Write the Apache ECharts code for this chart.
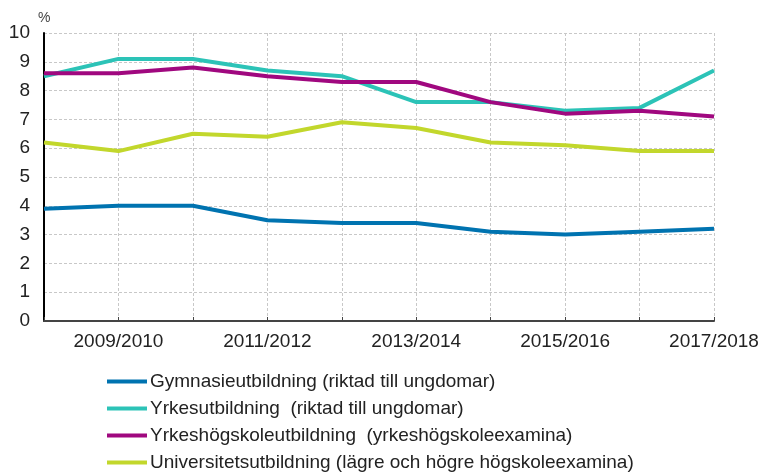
<!DOCTYPE html>
<html lang="sv">
  <head>
    <meta charset="utf-8" />
    <title>Examina</title>
    <style>
      * {
        margin: 0;
        padding: 0;
      }

      #chart-container {
        position: relative;
        width: 763px;
        height: 475px;
        overflow: hidden;
        background: #fff;
      }
    </style>
  </head>

  <body>
    <div id="chart-container"></div>
    <script src="https://cdn.jsdelivr.net/npm/echarts@6/dist/echarts.min.js"></script>
    <script>
      var years = [
        "2008/2009", "2009/2010", "2010/2011", "2011/2012", "2012/2013",
        "2013/2014", "2014/2015", "2015/2016", "2016/2017", "2017/2018",
      ];
      var gymnasie = [3.9, 4.0, 4.0, 3.5, 3.4, 3.4, 3.1, 3.0, 3.1, 3.2];
      var yrkes = [8.5, 9.1, 9.1, 8.7, 8.5, 7.6, 7.6, 7.3, 7.4, 8.7];
      var yrkeshogskola = [8.6, 8.6, 8.8, 8.5, 8.3, 8.3, 7.6, 7.2, 7.3, 7.1];
      var universitet = [6.2, 5.9, 6.5, 6.4, 6.9, 6.7, 6.2, 6.1, 5.9, 5.9];

      var names = [
        "Gymnasieutbildning (riktad till ungdomar)",
        "Yrkesutbildning  (riktad till ungdomar)",
        "Yrkeshögskoleutbildning  (yrkeshögskoleexamina)",
        "Universitetsutbildning (lägre och högre högskoleexamina)",
      ];
      var colors = ["#0073b0", "#2cc3b7", "#a0087f", "#c2d72c"];
      var values = [gymnasie, yrkes, yrkeshogskola, universitet];

      var dom = document.getElementById("chart-container");
      var myChart = echarts.init(dom, null, { renderer: "canvas" });

      var gridLine = {
        show: true,
        lineStyle: { color: "#c8c8c8", type: [3, 2], width: 1 },
      };

      var option = {
        animation: false,
        color: colors,
        textStyle: { fontFamily: "Liberation Sans, Arial, sans-serif" },
        grid: {
          left: 44,
          right: 49,
          top: 33,
          bottom: 154,
        },
        legend: {
          orient: "vertical",
          left: 107,
          top: 372,
          height: 103,
          padding: 0,
          itemWidth: 40,
          itemHeight: 4,
          itemGap: 8,
          icon: "rect",
          textStyle: { fontSize: 19, color: "#222", padding: [0, 0, 0, -2] },
          data: names,
        },
        xAxis: {
          type: "category",
          boundaryGap: false,
          data: years,
          axisLine: { lineStyle: { color: "#444", width: 2 } },
          axisTick: {
            show: true,
            inside: true,
            length: 4,
            interval: 0,
            lineStyle: { color: "#444" },
          },
          axisLabel: {
            interval: function (i) {
              return i % 2 === 1;
            },
            fontSize: 19,
            color: "#222",
            margin: 11,
          },
          splitLine: Object.assign({ interval: 0 }, gridLine),
        },
        yAxis: {
          type: "value",
          min: 0,
          max: 10,
          interval: 1,
          name: "%",
          nameGap: 8,
          nameTextStyle: { fontSize: 14, color: "#444", align: "left", padding: [0, 0, 0, -6] },
          axisLine: { show: true, lineStyle: { color: "#000", width: 2 } },
          axisTick: { show: false },
          axisLabel: { fontSize: 19, color: "#222", margin: 14 },
          splitLine: gridLine,
        },
        series: values.map(function (v, i) {
          return {
            name: names[i],
            type: "line",
            data: v,
            symbol: "none",
            lineStyle: { width: 4, color: colors[i] },
          };
        }),
      };

      myChart.setOption(option);
      window.addEventListener("resize", myChart.resize);
    </script>
  </body>
</html>
